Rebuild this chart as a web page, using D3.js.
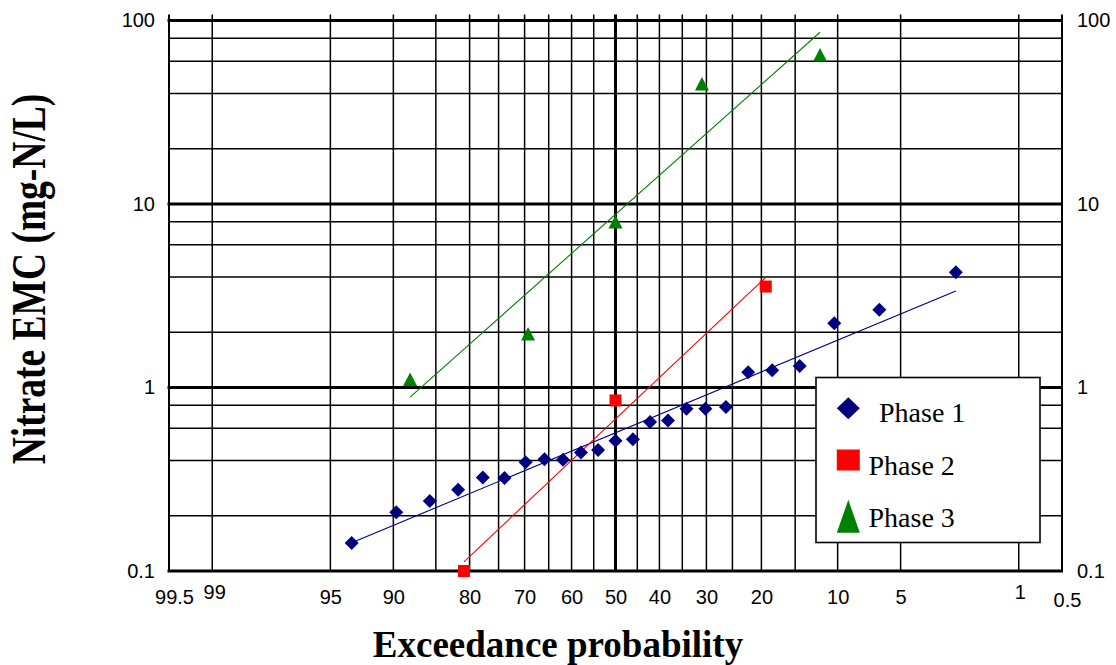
<!DOCTYPE html>
<html>
<head>
<meta charset="utf-8">
<script src="https://cdn.jsdelivr.net/npm/d3@7"></script>
<style>
  body { margin: 0; background: #fff; }
  svg { display: block; }
</style>
</head>
<body>
<svg id="chart" width="1116" height="665"></svg>
<script>
// Exceedance probabilities (%) and nitrate EMC values (mg-N/L) per phase
const phase1Exceed = [93.6, 89.7, 85.8, 81.8, 77.8, 73.9, 69.8, 65.9, 61.9, 57.9, 54.0, 50.0,
                      46.0, 42.1, 38.1, 34.1, 30.2, 26.2, 22.2, 18.3, 14.4, 10.35, 6.4, 2.48];
const phase1Values = [0.142, 0.209, 0.241, 0.277, 0.323, 0.321, 0.392, 0.407, 0.404, 0.442, 0.457, 0.512,
                      0.523, 0.648, 0.661, 0.766, 0.766, 0.782, 1.21, 1.24, 1.31, 2.24, 2.65, 4.25];
const phase2Exceed = [80.9, 50.0, 19.3];
const phase2Values = [0.10, 0.85, 3.55];
const phase3Exceed = [88.2, 69.3, 50.0, 30.9, 11.9];
const phase3Values = [1.11, 1.96, 8.0, 45.2, 65.1];

const seriesNames = ["Phase 1", "Phase 2", "Phase 3"];
const seriesColors = ["#000080", "#ff0000", "#008000"];

// Probability axis: labelled values and grid lines
const xTickLabels = [99.5, 99, 95, 90, 80, 70, 60, 50, 40, 30, 20, 10, 5, 1, 0.5];
const xGridValues = [99, 95, 90, 85, 80, 75, 70, 65, 60, 55, 45, 40, 35, 30, 25, 20, 15, 10, 5, 1];
const xMajorGrid = [50];
const xDomainEnds = [99.5, 0.5];
// Log axis: decades and intermediate lines
const yTickValues = [0.1, 1, 10, 100];
const yMinorValues = [0.2, 0.4, 0.6, 0.8, 2, 4, 6, 8, 20, 40, 60, 80];

// Inverse standard normal CDF (Acklam's rational approximation)
function normInv(p) {
  const a = [-3.969683028665376e+01, 2.209460984245205e+02, -2.759285104469687e+02, 1.383577518672690e+02, -3.066479806614716e+01, 2.506628277459239e+00];
  const b = [-5.447609879822406e+01, 1.615858368580409e+02, -1.556989798598866e+02, 6.680131188771972e+01, -1.328068155288572e+01];
  const c = [-7.784894002430293e-03, -3.223964580411365e-01, -2.400758277161838e+00, -2.549671039534914e+00, 4.374664141464968e+00, 2.938163982698783e+00];
  const d = [7.784695709041462e-03, 3.224671290700398e-01, 2.445134137142996e+00, 3.754408661907416e+00];
  const pl = 0.02425, ph = 1 - pl;
  let q, r;
  if (p < pl) {
    q = Math.sqrt(-2 * Math.log(p));
    return (((((c[0]*q+c[1])*q+c[2])*q+c[3])*q+c[4])*q+c[5]) / ((((d[0]*q+d[1])*q+d[2])*q+d[3])*q+1);
  }
  if (p <= ph) {
    q = p - 0.5; r = q * q;
    return (((((a[0]*r+a[1])*r+a[2])*r+a[3])*r+a[4])*r+a[5])*q / (((((b[0]*r+b[1])*r+b[2])*r+b[3])*r+b[4])*r+1);
  }
  q = Math.sqrt(-2 * Math.log(1 - p));
  return -(((((c[0]*q+c[1])*q+c[2])*q+c[3])*q+c[4])*q+c[5]) / ((((d[0]*q+d[1])*q+d[2])*q+d[3])*q+1);
}
// exceedance (%) -> standard normal deviate
const zOf = p => normInv(1 - p / 100);

const plot = { left: 169, right: 1062, top: 20.5, bottom: 571 };

const xz = d3.scaleLinear()
  .domain([zOf(xDomainEnds[0]), zOf(xDomainEnds[1])])
  .range([plot.left, plot.right]);
const xp = p => xz(zOf(p));
const y = d3.scaleLog().domain([0.1, 100]).range([plot.bottom, plot.top]);

const svg = d3.select("#chart");
const sans = "'Liberation Sans', Arial, Helvetica, sans-serif";
const serif = "'Liberation Serif', 'Times New Roman', Times, serif";

// ---- grid ----
const grid = svg.append("g").attr("stroke", "#000").attr("fill", "none");
grid.selectAll("line.hmin").data(yMinorValues).join("line")
  .attr("x1", plot.left).attr("x2", plot.right)
  .attr("y1", d => y(d)).attr("y2", d => y(d))
  .attr("stroke-width", 1.5);
grid.selectAll("line.vmin").data(xGridValues).join("line")
  .attr("x1", d => xp(d)).attr("x2", d => xp(d))
  .attr("y1", plot.top - 6).attr("y2", plot.bottom)
  .attr("stroke-width", 1.5);
grid.selectAll("line.vend").data(xDomainEnds).join("line")
  .attr("x1", d => xp(d)).attr("x2", d => xp(d))
  .attr("y1", plot.top - 6).attr("y2", plot.bottom)
  .attr("stroke-width", 2);
grid.selectAll("line.vmaj").data(xMajorGrid).join("line")
  .attr("x1", d => xp(d)).attr("x2", d => xp(d))
  .attr("y1", plot.top - 6).attr("y2", plot.bottom)
  .attr("stroke-width", 3);
grid.selectAll("line.hmaj").data(yTickValues).join("line")
  .attr("x1", plot.left - 1.5).attr("x2", plot.right + 1)
  .attr("y1", d => y(d)).attr("y2", d => y(d))
  .attr("stroke-width", 3);

// ---- axes (labels only) ----
const yFmt = d3.format("~g");
function styleAxis(g) {
  g.select(".domain").remove();
  g.selectAll(".tick line").remove();
  g.selectAll("text").attr("font-family", sans).attr("font-size", 20).attr("fill", "#000");
}
svg.append("g").attr("transform", `translate(${plot.left},0)`)
  .call(d3.axisLeft(y).tickValues(yTickValues).tickFormat(yFmt).tickSize(0).tickPadding(14))
  .call(styleAxis);
svg.append("g").attr("transform", `translate(${plot.right},0)`)
  .call(d3.axisRight(y).tickValues(yTickValues).tickFormat(yFmt).tickSize(0).tickPadding(15))
  .call(styleAxis);

const xLabelShift = { "99.5": [5, 0], "99": [2, -5], "1": [1, -5], "0.5": [5, 3] };
const xAxisG = svg.append("g").attr("transform", `translate(0,${plot.bottom})`)
  .call(d3.axisBottom(xz).tickValues(xTickLabels.map(zOf))
    .tickFormat((d, i) => String(xTickLabels[i])).tickSize(0).tickPadding(19))
  .call(styleAxis);
xAxisG.selectAll(".tick text").each(function (d, i) {
  const s = xLabelShift[String(xTickLabels[i])] || [0, 0];
  d3.select(this).attr("dx", s[0]).attr("dy", 0.71 + s[1] / 20 + "em");
});

// ---- trend lines: least-squares of log10(value) against normal deviate ----
function trend(exceed, values) {
  const zs = exceed.map(zOf), ls = values.map(Math.log10);
  const mz = d3.mean(zs), ml = d3.mean(ls);
  const slope = d3.sum(zs, (z, i) => (z - mz) * (ls[i] - ml)) / d3.sum(zs, z => (z - mz) ** 2);
  const ends = d3.extent(zs);
  return ends.map(z => [xz(z), y(Math.pow(10, ml + slope * (z - mz)))]);
}
const series = [
  { exceed: phase1Exceed, values: phase1Values },
  { exceed: phase2Exceed, values: phase2Values },
  { exceed: phase3Exceed, values: phase3Values }
];
series.forEach((s, k) => {
  svg.append("path")
    .attr("d", d3.line()(trend(s.exceed, s.values)))
    .attr("stroke", seriesColors[k]).attr("stroke-width", 1.1).attr("fill", "none");
});

// ---- markers ----
function markerPath(kind, w, h) {
  const p = d3.path();
  if (kind === 0) { p.moveTo(0, -h / 2); p.lineTo(w / 2, 0); p.lineTo(0, h / 2); p.lineTo(-w / 2, 0); }
  else if (kind === 1) { p.rect(-w / 2, -h / 2, w, h); }
  else { p.moveTo(0, -h / 2); p.lineTo(w / 2, h / 2); p.lineTo(-w / 2, h / 2); }
  p.closePath();
  return p.toString();
}
const markerSize = [[14, 14], [12, 12], [14, 13.5]];
series.forEach((s, k) => {
  svg.append("g").selectAll("path").data(s.values).join("path")
    .attr("transform", (v, i) => `translate(${xp(s.exceed[i])},${y(v)})`)
    .attr("d", markerPath(k, markerSize[k][0], markerSize[k][1]))
    .attr("fill", seriesColors[k]);
});

// ---- legend ----
const legend = svg.append("g");
legend.append("rect").attr("x", 816).attr("y", 377.5).attr("width", 224).attr("height", 165)
  .attr("fill", "#fff").attr("stroke", "#000").attr("stroke-width", 1.6);
const legendMarkerY = [408.3, 460, 516.3];
const legendMarkerSize = [[23, 22], [23, 21], [23, 33]];
const legendTextX = [879, 868.5, 868.5];
const legendTextY = [421.5, 475, 527];
seriesNames.forEach((name, k) => {
  legend.append("path")
    .attr("transform", `translate(848.3,${legendMarkerY[k]})`)
    .attr("d", markerPath(k, legendMarkerSize[k][0], legendMarkerSize[k][1]))
    .attr("fill", seriesColors[k]);
  legend.append("text").attr("x", legendTextX[k]).attr("y", legendTextY[k])
    .attr("font-family", serif).attr("font-size", 28).text(name);
});

// ---- axis titles ----
svg.append("text").attr("x", 558).attr("y", 657).attr("text-anchor", "middle")
  .attr("font-family", serif).attr("font-weight", "bold").attr("font-size", 37)
  .text("Exceedance probability");
svg.append("text").attr("transform", "translate(45,279) rotate(-90) scale(1,1.3)").attr("text-anchor", "middle")
  .attr("font-family", serif).attr("font-weight", "bold").attr("font-size", 37.5)
  .text("Nitrate EMC (mg-N/L)");
</script>
</body>
</html>
